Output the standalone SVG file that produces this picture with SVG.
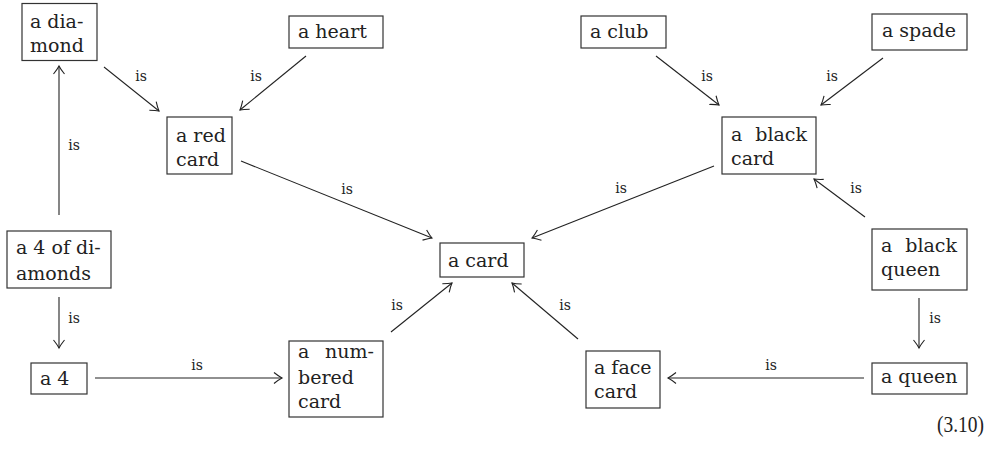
<svg xmlns="http://www.w3.org/2000/svg" width="998" height="457" viewBox="0 0 998 457">
<style>
.box{fill:#fff;stroke:#333;stroke-width:1.2}
.t{font-family:"DejaVu Serif","Liberation Serif",serif;font-size:19px;fill:#222}
.l{font-family:"DejaVu Serif","Liberation Serif",serif;font-size:14px;fill:#222;text-anchor:middle}
.c{stroke:#222;stroke-width:1.1;fill:none;marker-end:url(#ah)}
</style>
<defs>
<marker id="ah" markerUnits="userSpaceOnUse" markerWidth="14" markerHeight="14" viewBox="-10 -7 12 14" refX="0" refY="0" orient="auto">
<path d="M-8,-5.5 Q-3,-1.5 0,0 Q-3,1.5 -8,5.5" fill="none" stroke="#222" stroke-width="1.1"/>
</marker>
</defs>
<g id="connectors">
<line class="c" x1="59" y1="215" x2="59" y2="66"/>
<line class="c" x1="104" y1="67" x2="159" y2="111"/>
<line class="c" x1="306" y1="56" x2="240" y2="110"/>
<line class="c" x1="241" y1="161" x2="432" y2="238"/>
<line class="c" x1="59" y1="297" x2="59" y2="348"/>
<line class="c" x1="95" y1="378" x2="282" y2="378"/>
<line class="c" x1="391" y1="332" x2="452" y2="283"/>
<line class="c" x1="656" y1="56" x2="719" y2="105"/>
<line class="c" x1="883" y1="58" x2="821" y2="105"/>
<line class="c" x1="714" y1="166" x2="532" y2="238"/>
<line class="c" x1="865" y1="217" x2="814" y2="179"/>
<line class="c" x1="919" y1="298" x2="919" y2="348"/>
<line class="c" x1="864" y1="378" x2="668" y2="378"/>
<line class="c" x1="578" y1="339" x2="512" y2="283"/>
<text class="l" x="74" y="150">is</text>
<text class="l" x="141" y="81">is</text>
<text class="l" x="256" y="81">is</text>
<text class="l" x="347" y="194">is</text>
<text class="l" x="74" y="323">is</text>
<text class="l" x="197" y="370">is</text>
<text class="l" x="397" y="310">is</text>
<text class="l" x="707" y="81">is</text>
<text class="l" x="832" y="81">is</text>
<text class="l" x="621" y="193">is</text>
<text class="l" x="856" y="193">is</text>
<text class="l" x="935" y="323">is</text>
<text class="l" x="771" y="370">is</text>
<text class="l" x="565" y="310">is</text>
</g>
<g id="diamond"><rect class="box" x="22" y="3.5" width="75" height="57"/><text class="t" x="30" y="28">a dia-</text><text class="t" x="30" y="52">mond</text></g>
<g id="heart"><rect class="box" x="289" y="16" width="94" height="32"/><text class="t" x="298" y="38">a heart</text></g>
<g id="redcard"><rect class="box" x="167" y="117" width="65" height="57"/><text class="t" x="176" y="142">a red</text><text class="t" x="176" y="166">card</text></g>
<g id="fourdiamonds"><rect class="box" x="7" y="231" width="104" height="57"/><text class="t" x="16" y="254">a 4 of di-</text><text class="t" x="16" y="280">amonds</text></g>
<g id="four"><rect class="box" x="31" y="363" width="56" height="31"/><text class="t" x="40" y="385">a 4</text></g>
<g id="numbered"><rect class="box" x="289" y="341" width="94" height="76"/><text class="t" x="298" y="358">a</text><text class="t" x="374" y="358" text-anchor="end">num-</text><text class="t" x="298" y="384">bered</text><text class="t" x="298" y="408">card</text></g>
<g id="card"><rect class="box" x="440" y="243" width="84" height="34"/><text class="t" x="448" y="267">a card</text></g>
<g id="club"><rect class="box" x="581" y="16" width="85" height="32"/><text class="t" x="590" y="38">a club</text></g>
<g id="spade"><rect class="box" x="872" y="14" width="95" height="36"/><text class="t" x="882" y="37">a spade</text></g>
<g id="blackcard"><rect class="box" x="722" y="117" width="94" height="57"/><text class="t" x="731" y="141">a</text><text class="t" x="807" y="141" text-anchor="end">black</text><text class="t" x="731" y="165">card</text></g>
<g id="blackqueen"><rect class="box" x="872" y="229" width="95" height="61"/><text class="t" x="881" y="252">a</text><text class="t" x="957" y="252" text-anchor="end">black</text><text class="t" x="881" y="276">queen</text></g>
<g id="queen"><rect class="box" x="872" y="363" width="95" height="31"/><text class="t" x="881" y="383">a queen</text></g>
<g id="facecard"><rect class="box" x="586" y="351" width="74" height="57"/><text class="t" x="594" y="374">a face</text><text class="t" x="594" y="398">card</text></g>
<text x="937" y="432" font-family="Liberation Serif, serif" font-size="23" textLength="47" lengthAdjust="spacingAndGlyphs" fill="#222">(3.10)</text>
</svg>
